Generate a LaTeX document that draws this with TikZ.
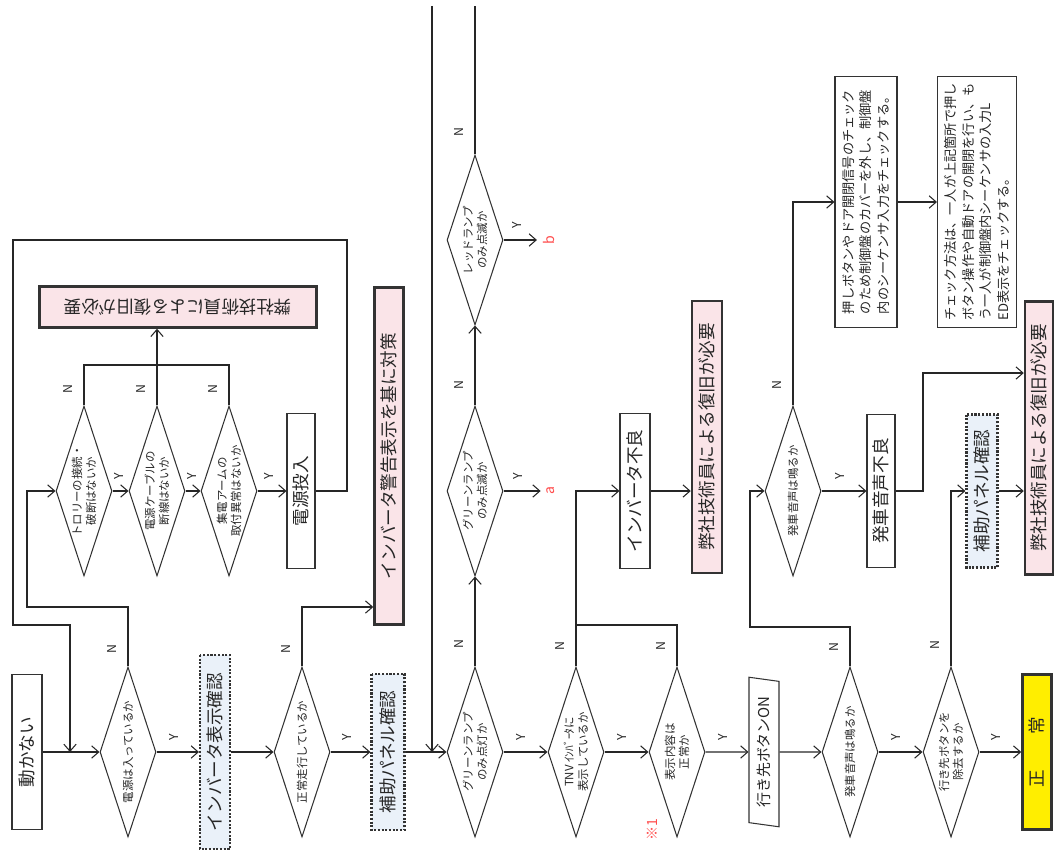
\documentclass[tikz,border=0pt]{standalone}
\usepackage{fontspec}
\setmainfont{Noto Sans CJK JP}
\usetikzlibrary{shapes.geometric,arrows.meta}

\definecolor{pinkfill}{RGB}{250,228,232}
\definecolor{bluefill}{RGB}{234,241,249}
\definecolor{okyellow}{RGB}{255,238,0}

\tikzset{
  box/.style={draw=black!80, rectangle, rotate=90, inner sep=1pt, line width=0.6pt, font=\fontsize{10}{12}\selectfont},
  pinkbox/.style={box, fill=pinkfill, line width=1.4pt},
  dotbox/.style={box, fill=bluefill, dash pattern=on 1.2pt off 0.9pt, line width=1.2pt},
  okbox/.style={box, fill=okyellow, line width=1.4pt},
  notebox/.style={box, align=left, inner sep=3pt, font=\fontsize{7.5}{10}\selectfont},
  dec/.style={draw=black!80, diamond, shape aspect=3, rotate=90, inner sep=0pt, line width=0.6pt, align=center,
    minimum width=34mm, minimum height=11.2mm, font=\fontsize{6.5}{8}\selectfont},
  ylab/.style={rotate=90, anchor=west, inner sep=2.2mm, pos=0.4, font=\fontsize{7}{7}\selectfont},
  nlab/.style={rotate=90, anchor=south, inner sep=2.2mm, font=\fontsize{7}{7}\selectfont},
  redlab/.style={rotate=90, text=red!70, font=\fontsize{8}{8}\selectfont}
}

\begin{document}
\begin{tikzpicture}[x=0.2mm, y=-0.2mm, color=black!85, line width=0.6pt, >={Straight Barb[length=4pt,width=7pt]}]
  \useasboundingbox (0,0) rectangle (1054,850);

  % main row
  \node[box, minimum width=31mm, minimum height=6mm] (stop) at (27,752) {動かない};
  \node[dec] (dpow) at (128,752) {電源は入っているか};
  \node[dotbox, minimum width=38.8mm, minimum height=6mm] (invchk) at (215,752) {インバータ表示確認};
  \node[dec] (drun) at (302,752) {正常走行しているか};
  \node[dotbox, minimum width=31.2mm, minimum height=6.6mm] (aux1) at (388,752) {補助パネル確認};
  \node[dec] (dgreen) at (475,752) {グリーンランプ\\のみ点灯か};
  \node[dec] (dtnv) at (576,752) {TNV ｲﾝﾊﾞｰﾀに\\表示しているか};
  \node[dec] (dcont) at (677,752) {表示内容は\\正常か};
  \node[draw=black!80, trapezium, trapezium left angle=79, trapezium right angle=101, trapezium stretches=true,
    rotate=90, minimum width=30mm, minimum height=6mm, inner sep=1pt, font=\fontsize{8.5}{10}\selectfont] (btn) at (764,752) {行き先ボタンON};
  \node[dec] (dsnd) at (850,752) {発車音声は鳴るか};
  \node[dec] (drem) at (951,752) {行き先ボタンを\\除去するか};
  \node[okbox, minimum width=31mm, minimum height=5.8mm] (ok) at (1037,752) {正　　常};

  % power checks
  \node[dec] (dtrol) at (84,491) {トロリーの接続・\\破断はないか};
  \node[dec] (dcab) at (157,491) {電源ケーブルの\\断線はないか};
  \node[dec] (darm) at (229,491) {集電アームの\\取付異常はないか};
  \node[box, minimum width=31mm, minimum height=5.6mm] (pwr) at (301,491) {電源投入};
  % upside down box
  \node[pinkbox, rotate=90, minimum width=55.4mm, minimum height=8.2mm] (svc1) at (178,307) {弊社技術員による復旧が必要};
  \node[pinkbox, minimum width=67.4mm, minimum height=5.8mm] (warn) at (389,456) {インバータ警告表示を基に対策};

  % lamps
  \node[dec] (dblink) at (475,491) {グリーンランプ\\のみ点滅か};
  \node[dec] (dred) at (475,240) {レッドランプ\\のみ点滅か};
  \node[redlab] (la) at (551,491) {a};
  \node[redlab] (lb) at (549,240) {b};
  \node[redlab] (kome) at (652,830) {※1};
  \node[box, minimum width=31mm, minimum height=6mm] (invbad) at (635,491) {インバータ不良};
  \node[pinkbox, minimum width=54.4mm, minimum height=6mm] (svc2) at (707,437) {弊社技術員による復旧が必要};

  % sound
  \node[dec] (dsnd2) at (793,491) {発車音声は鳴るか};
  \node[box, minimum width=30.6mm, minimum height=5.6mm] (sndbad) at (881,491) {発車音声不良};
  \node[dotbox, minimum width=30.6mm, minimum height=6.2mm] (aux2) at (982,491) {補助パネル確認};
  \node[pinkbox, minimum width=54.6mm, minimum height=5.6mm] (svc3) at (1039,438) {弊社技術員による復旧が必要};
  \node[notebox, minimum width=50.2mm, minimum height=12.4mm] (note1) at (866,202)
    {押しボタンやドア開閉信号のチェック\\のため制御盤のカバーを外し、制御盤\\内のシーケンサ入力をチェックする。};
  \node[notebox, minimum width=50.2mm, minimum height=15.8mm] (note2) at (977,202)
    {チェック方法は、一人が上記箇所で押し\\ボタン操作や自動ドアの開閉を行い、も\\う一人が制御盤内シーケンサの入力L\\ED表示をチェックする。};

  \coordinate (join1) at (70,752);
  \coordinate (join2) at (432,752);
  \coordinate (topin) at (432,6);
  \coordinate (topout) at (475,6);
  \coordinate (nj) at (157,365);
  \coordinate (rn) at (302,607);
  \coordinate (tn) at (576,625);
  \coordinate (sb) at (923,373);

  % main flow
  \draw[->] (stop) -- (dpow);
  \draw[->] (dpow) -- node[ylab] {Y} (invchk);
  \draw[->] (invchk) -- (drun);
  \draw[->] (drun) -- node[ylab] {Y} (aux1);
  \draw[->] (aux1) -- (dgreen);
  \draw[->] (dgreen) -- node[ylab] {Y} (dtnv);
  \draw[->] (dtnv) -- node[ylab] {Y} (dcont);
  \draw[->] (dcont) -- node[ylab] {Y} (btn);
  \draw[->] (btn) -- (dsnd);
  \draw[->] (dsnd) -- node[ylab] {Y} (drem);
  \draw[->] (drem) -- node[ylab] {Y} (ok);

  % power branch
  \draw[->] (dpow.east) -- node[nlab, pos=0.3] {N} (128,607) -- (27,607) |- (dtrol);
  \draw[->] (dtrol) -- node[ylab] {Y} (dcab);
  \draw[->] (dcab) -- node[ylab] {Y} (darm);
  \draw[->] (darm) -- node[ylab] {Y} (pwr);
  \draw (dtrol.east) -- node[nlab, pos=0.4] {N} (84,365) -- (229,365) -- (darm.east);
  \draw (dcab.east) -- node[nlab, pos=0.4] {N} (nj);
  \draw (darm.east) -- node[nlab, pos=0.4] {N} (229,365);
  \draw[->] (nj) -- (nj |- svc1.north);
  \draw[->] (pwr) -- (347,491) -- (347,240) -- (13,240) -- (13,625) -- (70,625) -- (join1);

  \draw[->] (drun.east) -- node[nlab, pos=0.3] {N} (rn) -- (rn -| warn.north);
  \draw[->] (topin) -- (join2);

  % lamps branch
  \draw[->] (dgreen.east) -- node[nlab, pos=0.25] {N} (dblink.west);
  \draw[->] (dblink) -- node[ylab] {Y} (la);
  \draw[->] (dblink.east) -- node[nlab, pos=0.25] {N} (dred.west);
  \draw[->] (dred) -- node[ylab] {Y} (lb);
  \draw (dred.east) -- node[nlab, pos=0.15] {N} (topout);

  \draw (dcont.east) -- node[nlab] {N} (677,625) -- (tn);
  \draw[->] (dtnv.east) -- node[nlab] {N} (tn) |- (invbad);
  \draw[->] (invbad) -- (invbad -| svc2.north);

  % sound branch
  \draw[->] (dsnd.east) -- node[nlab] {N} (850,627) -- (750,627) |- (dsnd2);
  \draw[->] (dsnd2) -- node[ylab] {Y} (sndbad);
  \draw[->] (dsnd2.east) -- node[nlab, pos=0.1] {N} (793,202) -- (note1);
  \draw[->] (note1) -- (note2);
  \draw[->] (sndbad) -| (sb) -- (sb -| svc3.north);
  \draw[->] (drem.east) -- node[nlab, pos=0.12] {N} (951,491) -- (aux2);
  \draw[->] (aux2) -- (aux2 -| svc3.north);
\end{tikzpicture}
\end{document}
